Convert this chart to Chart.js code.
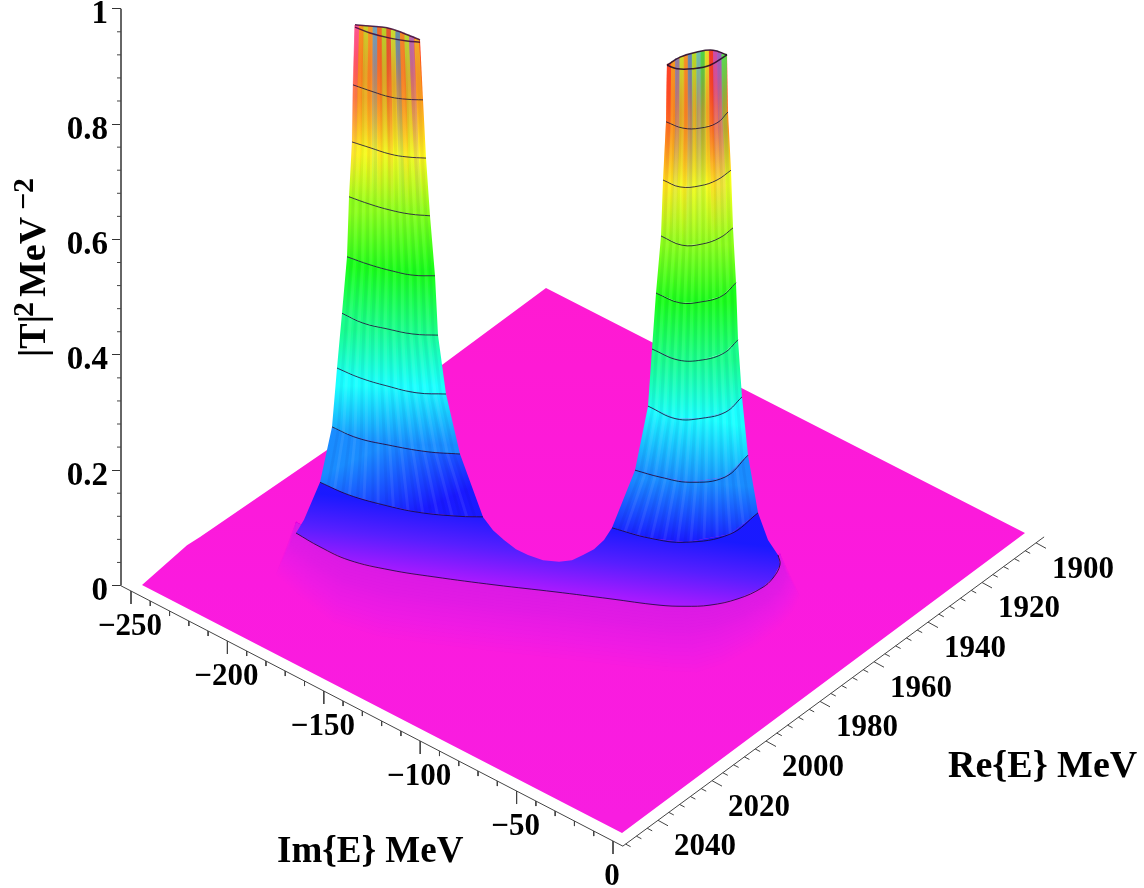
<!DOCTYPE html>
<html><head><meta charset="utf-8">
<style>html,body{margin:0;padding:0;background:#fff}canvas{display:block}</style>
<script src="https://cdn.jsdelivr.net/npm/chart.js@4/dist/chart.umd.min.js"></script>
</head><body><canvas id="c" width="1144" height="888"></canvas>
<script>
// ---- axis values
const zTicks=[0,0.2,0.4,0.6,0.8,1];
const zMinorTicks=[0.04,0.08,0.12,0.16,0.24,0.28,0.32,0.36,0.44,0.48,0.52,0.56,0.64,0.68,0.72,0.76,0.84,0.88,0.92,0.96];
const reTicks=[1900,1920,1940,1960,1980,2000,2020,2040];
const reMinorStep=4, reRange=[1897,2053];
const imTicks=[-250,-200,-150,-100,-50,0];
const imMinorStep=10, imRange=[-255.2,5.2];
// ---- projected floor outline (horizontal position, apparent height on the |T|^2 axis)
const floorUpperX=[142,187,200,327,546,1025];
const floorUpperH=[0.001,0.070,0.084,0.235,0.516,0.091];
const floorLowerX=[622];
const floorLowerH=[-0.429];
// ---- iso-level curves of the left peak
const leftLevels=[0.2,0.3,0.4,0.5,0.6,0.7,0.8,0.9,1.0];
const leftX=[[320,349,383,418,459,483],[332,357,387,427,460],[337,360,387,417,446],[342,363,387,413,438],[347,370,393,413,435],[349,370,390,410,430],[352,370,390,407,426],[353,373,390,407,423],[355,370,390,407,420]];
const leftH=[[0.179,0.157,0.140,0.127,0.120,0.119],[0.275,0.256,0.244,0.232,0.228],[0.377,0.360,0.346,0.334,0.332],[0.472,0.455,0.445,0.436,0.434],[0.570,0.556,0.545,0.538,0.537],[0.674,0.661,0.651,0.644,0.641],[0.769,0.759,0.748,0.743,0.741],[0.868,0.856,0.847,0.843,0.842],[0.968,0.958,0.949,0.944,0.942]];
const leftRimBackX=[355,370,387,403,420];
const leftRimBackH=[0.972,0.970,0.967,0.958,0.946];
// ---- iso-level curves of the right peak
const rightLevels=[0.2,0.3,0.4,0.5,0.6,0.7,0.8,0.9,1.0];
const rightX=[[612,650,686,730,758],[635,660,690,725,748],[648,676,702,726,742],[652,678,702,724,738],[656,680,702,722,736],[661,682,702,720,733],[663,680,700,717,731],[666,683,700,717,728],[667,677,692,710,727]];
const rightH=[[0.100,0.082,0.075,0.089,0.126],[0.200,0.188,0.179,0.188,0.226],[0.311,0.289,0.290,0.301,0.327],[0.410,0.391,0.391,0.403,0.426],[0.507,0.490,0.492,0.502,0.525],[0.606,0.590,0.592,0.603,0.620],[0.703,0.691,0.693,0.703,0.720],[0.804,0.793,0.793,0.802,0.821],[0.902,0.896,0.896,0.902,0.920]];
const rightRimBackX=[667,680,697,713,727];
const rightRimBackH=[0.902,0.916,0.925,0.928,0.920];
// ---- merged base
const baseContourX=[296,320,349,390,434,495,555,610,659,685,710,738,762,773,780,778];
const baseContourH=[0.091,0.067,0.044,0.027,0.015,0.001,-0.011,-0.023,-0.034,-0.036,-0.034,-0.023,-0.004,0.013,0.036,0.053];
const baseLeftEdgeX=[304];
const baseLeftEdgeH=[0.114];
const saddleX=[493,504,516,528,543,559,572,583,594,604];
const saddleH=[0.096,0.079,0.063,0.053,0.044,0.041,0.044,0.053,0.063,0.079];
const baseRightEdgeX=[768];
const baseRightEdgeH=[0.079];
// ---- meridian streaks
const leftStreakT=[0.03,0.10,0.17,0.24,0.31,0.38,0.45,0.52,0.59,0.66,0.73,0.80,0.87,0.95];
const leftStreakColor=['#ff5a96','#f59a1e','#c8dc28','#f5a028','#64aac8','#f06e28','#b4dc28','#e05a32','#c8e632','#5a96b4','#f08c28','#b4e132','#b46eb4','#f0b428'];
const rightStreakT=[0.04,0.11,0.18,0.25,0.32,0.39,0.46,0.53,0.60,0.67,0.74,0.81,0.88,0.95];
const rightStreakColor=['#ff4628','#f5a01e','#8c82aa','#c8e628','#f59628','#5a8cbe','#b4e628','#64c8b4','#46dc46','#e6e628','#f03c28','#c850b4','#9664c8','#50e650'];
const fineStreakT=[0.05,0.09,0.14,0.18,0.23,0.27,0.32,0.36,0.41,0.45,0.50,0.54,0.59,0.63,0.68,0.72,0.77,0.81,0.86,0.90,0.95];
// ---- label and title text
const reTitle='Re{E} MeV', imTitle='Im{E} MeV';

const FONT='"Liberation Serif"';
const Y_MIN=-0.5244, Y_MAX=1.0151, CANVAS_H=888;
const canvas=document.getElementById('c');
const gctx=canvas.getContext('2d');
const yPx=h=>CANVAS_H*(Y_MAX-h)/(Y_MAX-Y_MIN);
const hue=l=>`hsl(${300-300*l},100%,55%)`;
const pts=(xs,hs)=>xs.map((x,i)=>({x,y:hs[i]}));
const datasets=[];
const poly=(data,bg)=>datasets.push({data,showLine:true,pointRadius:0,borderWidth:0,borderColor:'transparent',backgroundColor:bg,fill:'shape'});
const line=(data,color,w,extra)=>datasets.push(Object.assign({data,showLine:true,pointRadius:0,borderWidth:w,borderColor:color,backgroundColor:'transparent',fill:false},extra||{}));

function grad(a,b,stops){
  const g=gctx.createLinearGradient(a.x,yPx(a.y),b.x,yPx(b.y));
  stops.forEach(([o,col])=>g.addColorStop(o,col));return g;}
const mid=(xs,hs)=>{const i=Math.floor(xs.length/2);return {x:xs[i],y:hs[i]};};
function at(xs,hs,t){const x=xs[0]+t*(xs[xs.length-1]-xs[0]);let i=0;while(i<xs.length-2&&x>xs[i+1])i++;
  const f=(x-xs[i])/(xs[i+1]-xs[i]);return {x,y:hs[i]+f*(hs[i+1]-hs[i])};}

// floor
poly([...pts(floorUpperX,floorUpperH),...pts(floorLowerX,floorLowerH)],grad({x:600,y:0.5},{x:600,y:-0.4},[[0,'#ff1ad2'],[0.55,'#fb1ade'],[1,'#f81de0']]));
// soft halo around the base of the surface
const haloX=baseContourX.slice(0,15), haloH=baseContourH.slice(0,15);
[66,62,58,54,50,46,42,38,34,30,27,24,21,18,15,12,9,6,4,2].forEach(d=>{
  const dh=d*0.00173;
  const low=haloX.map((x,i)=>{const edge=Math.min(1,Math.min(x-250,800-x)/110);
    return {x:x+(x-540)/240*d*0.3,y:haloH[i]-dh*(0.35+0.65*edge)};});
  const high=haloX.map((x,i)=>({x,y:haloH[i]+0.02})).reverse();
  poly([...low,...high],'rgba(200,20,255,0.034)');
});
// merged base band
const baseUpper=[{x:baseContourX[0],y:baseContourH[0]},...pts(baseLeftEdgeX,baseLeftEdgeH),...pts(leftX[0],leftH[0]),...pts(saddleX,saddleH),...pts(rightX[0],rightH[0]),...pts(baseRightEdgeX,baseRightEdgeH)];
poly([...baseUpper,...pts(baseContourX,baseContourH).reverse()],
  grad({x:400,y:0.143},{x:392,y:0.025},[[0,hue(0.2)],[0.5,'hsl(255,100%,56%)'],[1,'hsl(277,100%,55%)']]));
// bands of the peaks
function bands(X,H,L,backX,backH){
  for(let k=0;k<X.length-1;k++){
    const top=k===X.length-2;
    const ux=top?backX:X[k+1], uh=top?backH:H[k+1];
    const a=mid(X[k],H[k]), b=mid(ux,uh);
    poly([...pts(X[k],H[k]),...pts(ux,uh).reverse()],grad(a,b,[[0,hue(L[k])],[1,hue(L[k+1])]]));
  }
}
bands(leftX,leftH,leftLevels,leftRimBackX,leftRimBackH);
bands(rightX,rightH,rightLevels,rightRimBackX,rightRimBackH);
// subtle fine ribs
function ribs(X,H){fineStreakT.forEach((t,i)=>{
  const d=X.map((xs,k)=>at(xs,H[k],t));
  line(d,i%2?'rgba(255,255,255,0.07)':'rgba(0,0,90,0.05)',3);
});}
ribs(leftX,leftH);ribs(rightX,rightH);
// coloured streaks at the top of each peak
function streaks(X,H,backX,backH,ts,cols){
  const n=X.length;
  ts.forEach((t,i)=>{
    const c=cols[i],r=parseInt(c.slice(1,3),16),g=parseInt(c.slice(3,5),16),b=parseInt(c.slice(5,7),16);
    const back=at(backX,backH,t);
    const d=[back,at(X[n-1],H[n-1],t),at(X[n-2],H[n-2],t),at(X[n-3],H[n-3],t),at(X[n-4],H[n-4],t)];
    const f=a=>`rgba(${r},${g},${b},${a})`;
    line(d,grad(back,d[4],[[0,f(0.95)],[0.12,f(0.8)],[0.3,f(0.45)],[0.6,f(0.22)],[1,f(0)]]),5);
  });
}
streaks(leftX,leftH,leftRimBackX,leftRimBackH,leftStreakT,leftStreakColor);
streaks(rightX,rightH,rightRimBackX,rightRimBackH,rightStreakT,rightStreakColor);
// contour curves
const dark='rgba(20,10,50,0.8)';
const smooth={tension:0.4};
leftX.forEach((xs,k)=>{if(k<leftX.length-1)line(pts(xs,leftH[k]),dark,1,smooth);});
rightX.forEach((xs,k)=>{if(k<rightX.length-1)line(pts(xs,rightH[k]),dark,1,smooth);});
line(pts(leftX[8],leftH[8]),'rgba(60,10,60,0.85)',1.5,smooth);
line(pts(leftRimBackX,leftRimBackH),'rgba(60,10,60,0.85)',1.5,smooth);
line(pts(rightX[8],rightH[8]),'rgba(40,10,40,0.9)',1.5,smooth);
line(pts(rightRimBackX,rightRimBackH),'rgba(40,10,40,0.9)',1.5,smooth);
line(pts(baseContourX,baseContourH),dark,1,smooth);

// axes in the projected plane
const reP=v=>({x:1036-2.7*(v-1900),y:0.074-0.003436*(v-1900)});
const imP=v=>({x:613+1.928*v,y:-0.443-0.001734*v});
function tickSet(vals,p,dx,dh){const out=[];vals.forEach(v=>{const a=p(v);out.push(a,{x:a.x+dx,y:a.y+dh},{x:NaN,y:NaN});});return out;}
const reMinor=[];for(let v=1900;v<=2052;v+=reMinorStep)if(!reTicks.includes(v))reMinor.push(v);
const imMinor=[];for(let v=-250;v<=0;v+=imMinorStep)if(!imTicks.includes(v))imMinor.push(v);
const axc='#444';
line([reP(reRange[0]),reP(reRange[1])],axc,1);
line(tickSet(reTicks,reP,10,-0.0095),axc,1);
line(tickSet(reMinor,reP,5,-0.0045),axc,1);
line([imP(imRange[0]),imP(imRange[1])],axc,1);
line(tickSet(imTicks,imP,0,-0.0225),axc,1);
line(tickSet(imMinor,imP,0,-0.0087),axc,1);
line([{x:121,y:0},{x:121,y:1}],'#666',2,{clip:false});
const zm=[];zMinorTicks.forEach(v=>zm.push({x:117,y:v},{x:121,y:v},{x:NaN,y:NaN}));
line(zm,'#444',1,{clip:false});

const labels={id:'labels',afterDraw(ch){
  const c=ch.ctx,{x,y}=ch.scales;
  c.save();c.fillStyle='#000';c.textAlign='center';c.textBaseline='middle';
  c.font=`bold 31px ${FONT}`;
  reTicks.forEach(v=>{const p=reP(v);c.fillText(String(v),x.getPixelForValue(p.x)+47,y.getPixelForValue(p.y)+27);});
  imTicks.forEach(v=>{const p=imP(v);c.fillText(v<0?'\u2212'+(-v):String(v),x.getPixelForValue(p.x)-1,y.getPixelForValue(p.y)+36);});
  c.textAlign='left';c.textBaseline='alphabetic';
  c.font=`bold 38px ${FONT}`;
  c.fillText(reTitle,948,777);
  c.font=`bold 37px ${FONT}`;
  c.fillText(imTitle,277,862);
  c.font=`bold 38px ${FONT}`;
  c.translate(45,357);c.rotate(-Math.PI/2);
  c.fillText('|T|',0,0);
  c.fillText('MeV',60,0);
  c.font=`bold 30px ${FONT}`;
  c.fillText('2',40,-12);
  c.fillText('\u22122',147,-12);
  c.restore();
}};

new Chart(canvas,{
  type:'scatter',
  data:{datasets:datasets.map((d,i)=>Object.assign(d,{order:datasets.length-i}))},
  options:{
    responsive:false,animation:false,
    layout:{padding:0},
    plugins:{legend:{display:false},tooltip:{enabled:false},title:{display:false}},
    scales:{
      x:{type:'linear',min:121,max:1144,display:false},
      y:{type:'linear',min:Y_MIN,max:Y_MAX,
        afterBuildTicks:s=>{s.ticks=zTicks.map(value=>({value}));},
        afterFit:s=>{s.width=121;s.paddingTop=0;s.paddingBottom=0;},
        border:{display:false},
        grid:{drawOnChartArea:false,drawTicks:true,tickLength:9,tickColor:'#333',tickWidth:1},
        ticks:{color:'#000',padding:4,labelOffset:6,autoSkip:false,font:{family:FONT,weight:'bold',size:33},callback:v=>String(v)}
      }
    }
  },
  plugins:[labels]
});
</script></body></html>
